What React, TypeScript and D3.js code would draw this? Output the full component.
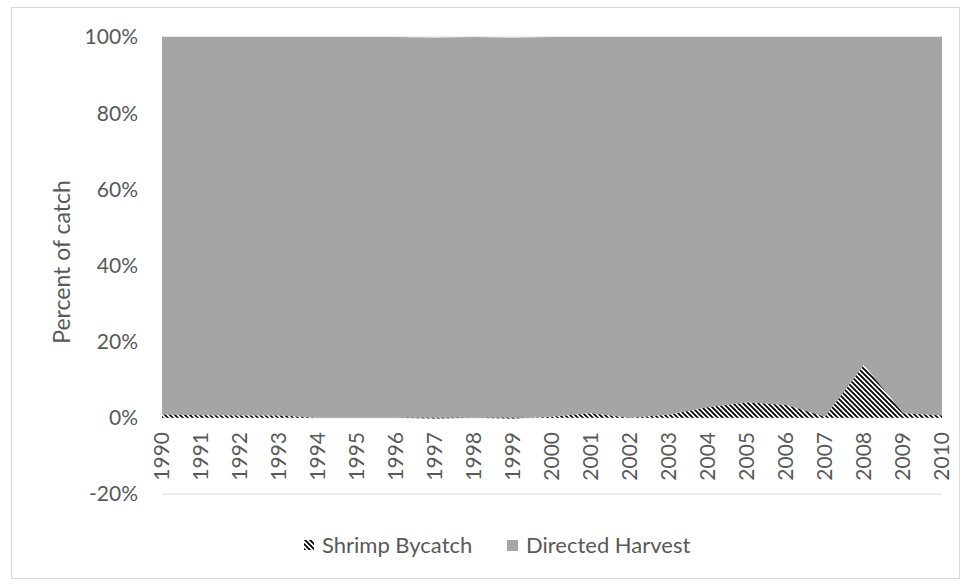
import React from "react";
import * as d3 from "d3";

const years = d3.range(1990, 2011).map(String);
const bycatch = [0.9, 0.7, 0.6, 0.6, 0, 0, 0, -0.2, 0, -0.2, 0.3, 1.2, 0, 0.8, 2.8, 4.0, 3.4, 0.3, 13.9, 1.2, 0.6];
const directed = [99.1, 99.3, 99.4, 99.4, 100, 100, 100, 100, 100, 100, 99.7, 98.8, 100, 99.2, 97.2, 96.0, 96.6, 99.7, 86.1, 98.8, 99.4];
const yTicks = [-20, 0, 20, 40, 60, 80, 100];
const seriesNames = ["Shrimp Bycatch", "Directed Harvest"];

const W = 966;
const H = 585;
const font = "Lato, 'Open Sans', sans-serif";
const textColor = "#595959";
const gray = "#a5a5a5";

const App = () => {
  const x = d3.scalePoint<string>().domain(years).range([162, 942]);
  const y = d3.scaleLinear().domain([-20, 100]).range([494, 37]);

  const rows = years.map((yr, i) => ({ year: yr, bycatch: bycatch[i], directed: directed[i] }));
  const stacked = d3.stack<any>().keys(["bycatch", "directed"])(rows);

  const area = d3
    .area<any>()
    .x((d) => x(d.data.year) as number)
    .y0((d) => y(d[0]))
    .y1((d) => y(d[1]));

  return (
    <svg width={W} height={H} style={{ position: "absolute", left: 0, top: 0 }}>
      <defs>
        <pattern id="stripes" patternUnits="userSpaceOnUse" width={5} height={5}>
          <rect width={5} height={5} fill="#fff" />
          <path d="M-1,-1 L6,6 M-1,4 L1,6 M4,-1 L6,1" stroke="#000" strokeWidth={1.8} />
        </pattern>
      </defs>
      <rect x={11.5} y={7.5} width={948} height={571} fill="#fff" stroke="#d9d9d9" strokeWidth={1} />

      {yTicks.map((t) => (
        <g key={t}>
          <line x1={162} x2={942} y1={y(t)} y2={y(t)} stroke="#d9d9d9" strokeWidth={1} />
          <text
            x={138}
            y={y(t)}
            dy="0.35em"
            textAnchor="end"
            fontFamily={font}
            fontSize={21}
            fill={textColor}
          >
            {t}%
          </text>
        </g>
      ))}

      <path d={area(stacked[1] as any) || ""} fill={gray} />
      <path d={area(stacked[0] as any) || ""} fill="url(#stripes)" />

      {years.map((yr) => (
        <text
          key={yr}
          transform={`translate(${x(yr)},432) rotate(-90)`}
          dy="0.35em"
          textAnchor="end"
          fontFamily={font}
          fontSize={21}
          fill={textColor}
        >
          {yr}
        </text>
      ))}

      <text
        transform={`translate(70,262) rotate(-90)`}
        textAnchor="middle"
        fontFamily={font}
        fontSize={23}
        fill={textColor}
      >
        Percent of catch
      </text>

      <g>
        <rect x={304} y={540} width={10} height={10} fill="url(#stripes)" />
        <text x={322} y={545} dy="0.35em" fontFamily={font} fontSize={22} fill={textColor}>
          {seriesNames[0]}
        </text>
        <rect x={507} y={540} width={11} height={11} fill={gray} />
        <text x={526} y={545} dy="0.35em" fontFamily={font} fontSize={22} fill={textColor}>
          {seriesNames[1]}
        </text>
      </g>
    </svg>
  );
};

export default App;
